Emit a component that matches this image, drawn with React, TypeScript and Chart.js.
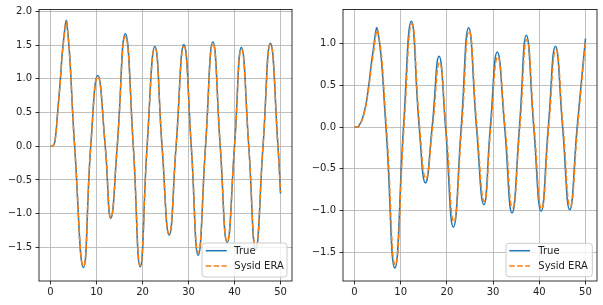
import React, { useEffect, useRef } from "react";
import { Chart, registerables } from "chart.js";

Chart.register(...registerables);

// ---------- data ----------
const leftTimes = [0, 0.6, 1.0, 1.5, 2.1, 2.8, 3.55, 5.25, 7.16, 8.75, 10.27, 11.9, 13.1, 14.5, 16.26, 18.0, 19.5, 21.0, 22.7, 24.25, 25.8, 27.3, 29.0, 30.6, 32.1, 33.7, 35.3, 36.9, 38.4, 40.0, 41.5, 43.1, 44.6, 46.2, 47.8, 49.45, 50];
const leftTrue = [0, 0.01, 0.09, 0.46, 0.95, 1.55, 1.84, 0, -1.8, 0, 1.05, 0, -1.07, 0, 1.67, 0, -1.79, 0, 1.48, 0, -1.32, 0, 1.51, 0, -1.62, 0, 1.55, 0, -1.43, 0, 1.47, 0, -1.53, 0, 1.53, 0, -0.7];
const leftEra = [0, 0.01, 0.09, 0.45, 0.94, 1.53, 1.82, 0, -1.78, 0, 1.03, 0, -1.05, 0, 1.63, 0, -1.77, 0, 1.46, 0, -1.3, 0, 1.48, 0, -1.58, 0, 1.52, 0, -1.41, 0, 1.44, 0, -1.49, 0, 1.51, 0, -0.68];

const rightTrueTimes = [0, 0.9, 2.1, 3.0, 3.9, 4.97, 6.8, 8.72, 10.6, 12.3, 14.0, 15.35, 16.8, 18.3, 19.7, 21.4, 23.1, 24.7, 26.4, 28.0, 29.4, 30.9, 32.5, 34.1, 35.7, 37.2, 38.8, 40.4, 41.95, 43.5, 45.05, 46.6, 48.2, 50];
const rightTrue = [0, 0.01, 0.18, 0.47, 0.87, 1.17, 0, -1.69, 0, 1.27, 0, -0.67, 0, 0.85, 0, -1.2, 0, 1.19, 0, -0.93, 0, 0.9, 0, -1.03, 0, 1.1, 0, -1.01, 0, 0.97, 0, -0.99, 0, 1.06];
const rightEraTimes = [0, 0.9, 2.1, 3.0, 3.95, 5.05, 6.9, 8.8, 10.7, 12.4, 14.1, 15.45, 16.9, 18.4, 19.8, 21.5, 23.2, 24.8, 26.5, 28.1, 29.5, 31.0, 32.6, 34.2, 35.8, 37.3, 38.9, 40.5, 42.05, 43.6, 45.15, 46.7, 48.3, 50];
const rightEra = [0, 0.01, 0.17, 0.45, 0.84, 1.15, 0, -1.65, 0, 1.24, 0, -0.62, 0, 0.77, 0, -1.13, 0, 1.15, 0, -0.89, 0, 0.84, 0, -0.97, 0, 1.05, 0, -0.98, 0, 0.93, 0, -0.95, 0, 1.03];

const xTicks = [0, 10, 20, 30, 40, 50];
const leftYTicks = [-1.5, -1.0, -0.5, 0.0, 0.5, 1.0, 1.5, 2.0];
const rightYTicks = [-1.5, -1.0, -0.5, 0.0, 0.5, 1.0];
const legendLabels = ["True", "Sysid ERA"];

const BLUE = "#1f77b4";
const ORANGE = "#ff7f0e";
const FONT = "'DejaVu Sans', sans-serif";

const fmt = (v: number) => {
  const s = Math.abs(v).toFixed(1);
  return v < 0 ? "\u2212" + s : s;
};

const toPoints = (ts: number[], ys: number[]) => ts.map((t, i) => ({ x: t, y: ys[i] }));

function makePlugins(legend: { x0: number; x1: number; y0: number; y1: number; lx0: number; lx1: number; tx: number; rows: number[] }) {
  return [
    {
      id: "frame",
      afterDatasetsDraw(chart: any) {
        const { ctx, chartArea: a } = chart;
        ctx.save();
        ctx.strokeStyle = "#000";
        ctx.lineWidth = 0.8;
        ctx.strokeRect(a.left, a.top, a.right - a.left, a.bottom - a.top);
        ctx.restore();
      },
      afterDraw(chart: any) {
        const ctx = chart.ctx;
        ctx.save();
        const { x0, x1, y0, y1 } = legend;
        const r = 3;
        ctx.beginPath();
        ctx.moveTo(x0 + r, y0);
        ctx.lineTo(x1 - r, y0);
        ctx.quadraticCurveTo(x1, y0, x1, y0 + r);
        ctx.lineTo(x1, y1 - r);
        ctx.quadraticCurveTo(x1, y1, x1 - r, y1);
        ctx.lineTo(x0 + r, y1);
        ctx.quadraticCurveTo(x0, y1, x0, y1 - r);
        ctx.lineTo(x0, y0 + r);
        ctx.quadraticCurveTo(x0, y0, x0 + r, y0);
        ctx.closePath();
        ctx.fillStyle = "rgba(255,255,255,0.8)";
        ctx.fill();
        ctx.strokeStyle = "#cccccc";
        ctx.lineWidth = 1;
        ctx.stroke();
        const colors = [BLUE, ORANGE];
        ctx.font = `10px ${FONT}`;
        ctx.textBaseline = "middle";
        ctx.textAlign = "left";
        legend.rows.forEach((ry, i) => {
          ctx.beginPath();
          ctx.strokeStyle = colors[i];
          ctx.lineWidth = 1.5;
          ctx.setLineDash(i === 0 ? [] : [5.55, 2.4]);
          ctx.moveTo(legend.lx0, ry);
          ctx.lineTo(legend.lx1, ry);
          ctx.stroke();
          ctx.setLineDash([]);
          ctx.fillStyle = "#222";
          ctx.fillText(legendLabels[i], legend.tx, ry + 0.5);
        });
        ctx.restore();
      },
    },
  ];
}

function Plot(props: {
  left: number;
  width: number;
  yWidth: number;
  padRight: number;
  yMin: number;
  yMax: number;
  yTicks: number[];
  trueTimes: number[];
  trueVals: number[];
  eraTimes: number[];
  eraVals: number[];
  legend: any;
}) {
  const ref = useRef<HTMLCanvasElement>(null);
  useEffect(() => {
    const canvas = ref.current!;
    const chart = new Chart(canvas, {
      type: "line",
      data: {
        datasets: [
          {
            label: legendLabels[0],
            data: toPoints(props.trueTimes, props.trueVals),
            borderColor: BLUE,
            borderWidth: 1.5,
            pointRadius: 0,
            tension: 0.5,
            fill: false,
            order: 1,
          },
          {
            label: legendLabels[1],
            data: toPoints(props.eraTimes, props.eraVals),
            borderColor: ORANGE,
            borderWidth: 1.5,
            borderDash: [5.55, 2.4],
            pointRadius: 0,
            tension: 0.5,
            fill: false,
            order: 0,
          },
        ],
      },
      options: {
        animation: false,
        responsive: false,
        devicePixelRatio: 1,
        layout: { padding: { left: 0, right: props.padRight, top: 9, bottom: 0 } },
        plugins: { legend: { display: false }, tooltip: { enabled: false } },
        scales: {
          x: {
            type: "linear",
            min: -2.5,
            max: 52.5,
            afterBuildTicks: (axis: any) => {
              axis.ticks = xTicks.map((v) => ({ value: v }));
            },
            afterFit: (axis: any) => {
              axis.height = 24;
            },
            grid: { color: "#b0b0b0", lineWidth: 0.8, tickLength: 3.5, tickColor: "#000", tickWidth: 0.8 },
            border: { display: false },
            ticks: {
              padding: 2,
              color: "#222",
              font: { family: FONT, size: 10 },
              maxRotation: 0,
              callback: (v: any) => String(v),
            },
          },
          y: {
            type: "linear",
            min: props.yMin,
            max: props.yMax,
            afterBuildTicks: (axis: any) => {
              axis.ticks = props.yTicks.map((v) => ({ value: v }));
            },
            afterFit: (axis: any) => {
              axis.width = props.yWidth;
            },
            grid: { color: "#b0b0b0", lineWidth: 0.8, tickLength: 3.5, tickColor: "#000", tickWidth: 0.8 },
            border: { display: false },
            ticks: {
              padding: 3.5,
              color: "#222",
              font: { family: FONT, size: 10 },
              callback: (v: any) => fmt(Number(v)),
            },
          },
        },
      },
      plugins: makePlugins(props.legend) as any,
    });
    return () => chart.destroy();
  }, []);
  return (
    <canvas
      ref={ref}
      width={props.width}
      height={305}
      style={{ position: "absolute", left: props.left, top: 0, width: props.width, height: 305 }}
    />
  );
}

export default function App() {
  return (
    <div style={{ position: "fixed", left: 0, top: 0, width: 603, height: 305, background: "#fff" }}>
      <Plot
        left={0}
        width={300}
        yWidth={39}
        padRight={8}
        yMin={-2.0}
        yMax={2.03}
        yTicks={leftYTicks}
        trueTimes={leftTimes}
        trueVals={leftTrue}
        eraTimes={leftTimes}
        eraVals={leftEra}
        legend={{ x0: 202, x1: 287, y0: 243, y1: 277, lx0: 205.7, lx1: 226.7, tx: 234.3, rows: [250.7, 266] }}
      />
      <Plot
        left={300}
        width={303}
        yWidth={43}
        padRight={6}
        yMin={-1.845}
        yMax={1.41}
        yTicks={rightYTicks}
        trueTimes={rightTrueTimes}
        trueVals={rightTrue}
        eraTimes={rightEraTimes}
        eraVals={rightEra}
        legend={{ x0: 206, x1: 292.3, y0: 243.3, y1: 276.7, lx0: 209.3, lx1: 230, tx: 238.3, rows: [250.7, 266] }}
      />
    </div>
  );
}
